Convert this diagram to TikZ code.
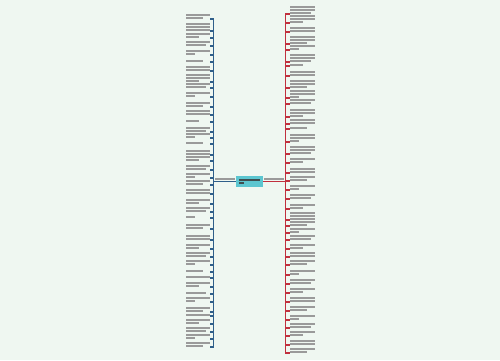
\documentclass[tikz,border=0pt]{standalone}
\usetikzlibrary{positioning}

\definecolor{bgmint}{HTML}{EFF7F1}
\definecolor{brblue}{HTML}{2F5F8A}
\definecolor{brred}{HTML}{C0303E}
\definecolor{rootcyan}{HTML}{5CC6D0}
\definecolor{inkgray}{HTML}{9A9A9A}
\definecolor{inkdark}{HTML}{3E4E50}

% one line of (unreadable) small text, drawn as a bar
\newcommand{\txtrow}[3]{\hbox to #2{\color{#3}\vrule width #1 height 1pt depth 0pt\hfil}}
\newcommand{\leafbody}[3]{\vbox{\offinterlineskip
  \ifcase#1\or\or\txtrow{#3}{#3}{inkgray}\vskip0.75pt
  \or\txtrow{#3}{#3}{inkgray}\vskip0.75pt\txtrow{#3}{#3}{inkgray}\vskip0.75pt\fi
  \txtrow{#2}{#3}{inkgray}}}

\tikzset{
  leafL/.style={inner sep=0pt, outer sep=0pt, anchor=north east},
  leafR/.style={inner sep=0pt, outer sep=0pt, anchor=north west},
  branch/.style={inner sep=1pt, outer sep=0pt},
  linkL/.style={draw=brblue, line width=0.9pt},
  linkR/.style={draw=brred, line width=0.9pt},
}

\begin{document}
\begin{tikzpicture}[x=0.02cm, y=-0.02cm]
\fill[bgmint] (0,0) rectangle (500,360);

\node[fill=rootcyan, inner sep=1.5pt, minimum width=0.5cm, minimum height=0.18cm] (root) at (249.5,181.5)
  {\vbox{\offinterlineskip\txtrow{0.42cm}{0.42cm}{inkdark}\vskip0.75pt\txtrow{0.1cm}{0.42cm}{inkdark}}};

\node[branch, anchor=south east] (lb) at (237,181.5) {\txtrow{0.4cm}{0.4cm}{inkgray}};
\node[branch, anchor=south west] (rb) at (262,181.5) {\txtrow{0.4cm}{0.4cm}{inkgray}};

\draw[linkL] (root.west) -- (lb.south west);
\draw[linkR] (root.east) -- (rb.south east);

% left leaves: top / lines
\foreach \t/\n [count=\i] in {14/2,23/3,33/2,41/2,50/2,60/1,66/2,74/3,83/2,
    92/2,102/2,110/2,120/1,127/2,133/2,142/1,150/2,156/2,165/2,173/2,
    180/2,189/2,199/2,207/2,216/1,224/2,235/2,244/2,252/2,260/2,
    270/1,276/1,282/2,292/1,297/2,307/2,314/1,319/2,327/2,334/2,342/2}{
  \pgfmathsetmacro\w{0.18+0.3*mod(\i*7,5)/4}
  \node[leafL] (l\i) at (210,\t) {\leafbody{\n}{\w cm}{0.48cm}};
  \draw[linkL] (lb.south west) |- (l\i.south east);
}

% right leaves: top / lines
\foreach \t/\n [count=\i] in {6/3,15/3,27/2,36/3,45/2,54/3,64/1,71/2,80/3,
    90/3,99/2,109/3,119/2,127/1,134/3,146/3,158/2,168/2,176/2,
    185/2,194/2,204/2,212/3,221/2,228/2,235/2,244/2,252/2,260/2,
    270/2,279/2,288/2,297/2,306/2,315/2,323/2,331/2,340/2,348/2}{
  \pgfmathsetmacro\w{0.18+0.32*mod(\i*3,5)/4}
  \node[leafR] (r\i) at (290,\t) {\leafbody{\n}{\w cm}{0.5cm}};
  \draw[linkR] (rb.south east) |- (r\i.south west);
}

\end{tikzpicture}
\end{document}
